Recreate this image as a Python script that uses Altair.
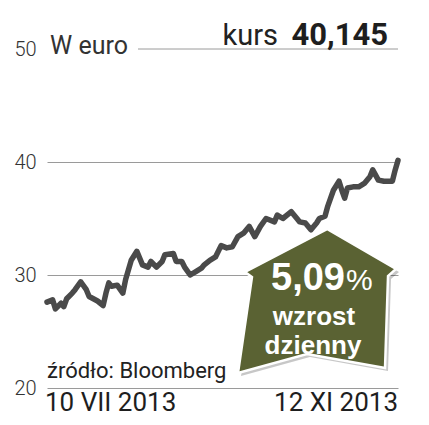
import altair as alt
import pandas as pd

# trading-day offsets from 10 VII 2013 and closing price (EUR)
days = [0, 2, 3, 5, 6, 7, 9, 10, 12, 14, 15, 18, 20, 21, 22, 23, 25, 27, 28, 30,
        32, 34, 36, 37, 39, 41, 42, 45, 46, 48, 49, 51, 53, 55, 56, 58, 60, 62, 64, 66,
        68, 70, 72, 74, 76, 78, 81, 82, 84, 87, 89, 90, 92, 94, 96, 97, 99, 100, 102, 104,
        105, 106, 107, 109, 111, 113, 115, 116, 118, 120, 121, 123, 124, 125]
values = [27.6, 27.8, 27.0, 27.5, 27.2, 27.9, 28.4, 28.7, 29.4, 28.7, 28.1, 27.7, 27.3, 28.4, 29.3, 29.0, 29.1, 28.4, 29.6, 31.3,
          32.1, 30.9, 30.7, 31.2, 30.7, 31.2, 31.8, 31.9, 31.2, 31.2, 30.7, 30.0, 30.3, 30.6, 30.9, 31.3, 31.6, 32.6, 32.4, 32.5,
          33.4, 33.7, 34.3, 33.4, 34.3, 35.0, 34.7, 35.3, 35.0, 35.6, 35.0, 34.7, 34.6, 34.0, 34.6, 35.0, 35.2, 36.1, 37.5, 38.3,
          37.5, 36.8, 37.7, 37.8, 37.8, 38.1, 38.7, 39.3, 38.4, 38.3, 38.3, 38.3, 39.3, 40.145]
y_ticks = [20, 30, 40, 50]
unit_label = "W euro"
kurs_label = "kurs"
kurs_value = "40,145"
change_value = "5,09"
change_lines = ["wzrost", "dzienny"]
source_label = "źródło: Bloomberg"
start_label = "10 VII 2013"
end_label = "12 XI 2013"

df = pd.DataFrame({"day": days, "price": values})
one = alt.InlineData(values=[{"k": 1}])

REG = "Roboto, Liberation Sans, sans-serif"
BOLD = "Liberation Sans, Arial, sans-serif"

yscale = alt.Scale(domain=[20, 50], nice=False, zero=False)

line = alt.Chart(df).mark_line(
    color="#4a4a4a", strokeWidth=5.5, strokeCap="round", strokeJoin="round"
).encode(
    x=alt.X("day:Q", scale=alt.Scale(domain=[0, 125], nice=False, zero=False), axis=None),
    y=alt.Y("price:Q", scale=yscale, title=None,
            axis=alt.Axis(values=y_ticks, domain=False, ticks=False,
                          labelAlign="left", labelBaseline="middle", labelPadding=33,
                          labelFont=REG, labelFontWeight=300, labelFontSize=20,
                          labelColor="#333333",
                          gridColor="#9a9a9a", gridWidth=1,
                          gridOpacity={"condition": {"test": "datum.value === 50", "value": 0}, "value": 1})),
)

rule50 = alt.Chart(one).mark_rule(color="#9a9a9a", strokeWidth=1).encode(
    x=alt.value(91), x2=alt.value(351), y=alt.datum(50)
)

def txt(s, x, y, size, font, weight="normal", color="#222222", align="left", baseline="alphabetic"):
    return alt.Chart(one).mark_text(
        text=s, font=font, fontSize=size, fontWeight=weight, color=color,
        align=align, baseline=baseline
    ).encode(x=alt.value(x), y=alt.value(y))

arrow_path = ("M0.127,-0.911 L1.0,-0.405 L0.899,-0.316 L0.861,0.848 L-0.127,0.671 "
              "L-1.0,0.911 L-0.823,-0.304 L-0.911,-0.367 Z")
arrow_size = 158 * 158

shadow = alt.Chart(one).mark_point(
    shape=arrow_path, size=arrow_size, filled=True, fill="#000000", opacity=0.22, strokeWidth=0
).encode(x=alt.value(273), y=alt.value(255))

arrow = alt.Chart(one).mark_point(
    shape=arrow_path, size=arrow_size, filled=True, fill="#5a6233", opacity=1,
    stroke="#ffffff", strokeWidth=2.5
).encode(x=alt.value(270), y=alt.value(252))

layers = [
    line, rule50,
    txt(unit_label, 3, 5, 25, REG, color="#333333"),
    txt(kurs_label, 231, -4, 29, REG, color="#222222", align="right"),
    txt(kurs_value, 341, -4, 31, REG, weight="bold", color="#1e1e1e", align="right"),
    shadow, arrow,
    txt(change_value, 298, 241, 38, BOLD, weight="bold", color="#ffffff", align="right"),
    txt("%", 299, 241, 30, BOLD, color="#ffffff"),
    txt(change_lines[0], 267, 276, 26, BOLD, weight="bold", color="#ffffff", align="center"),
    txt(change_lines[1], 266, 305, 26, BOLD, weight="bold", color="#ffffff", align="center"),
    txt(source_label, 0, 329, 22, REG, color="#222222"),
    txt(start_label, -2, 362, 26, REG, color="#1e1e1e"),
    txt(end_label, 351, 362, 26, REG, color="#1e1e1e", align="right"),
]

chart = alt.layer(*layers).properties(
    width=351, height=339,
    padding={"left": 39, "top": 41, "right": 23, "bottom": 29},
    autosize=alt.AutoSizeParams(type="none"),
).configure_view(stroke=None)

chart.save("out.html", embed_options={"renderer": "svg", "actions": False})
